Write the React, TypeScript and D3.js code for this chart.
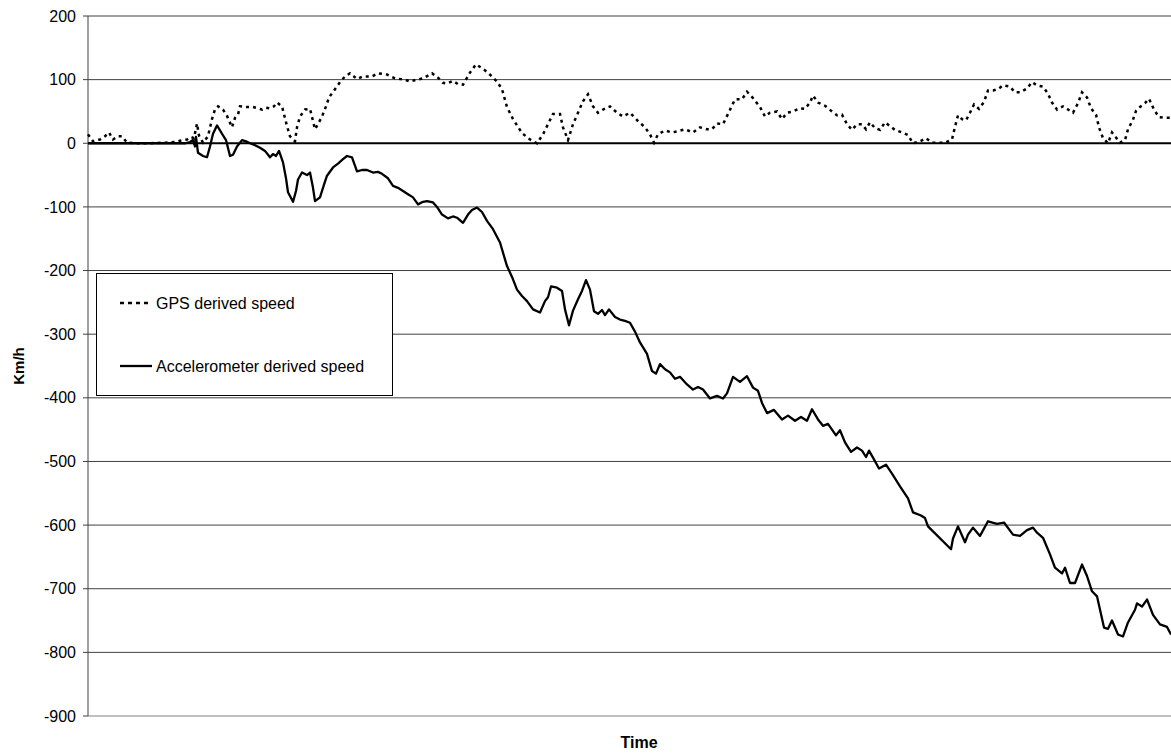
import React from "react";
import * as d3 from "d3";

// Time in samples (arbitrary units), values in km/h
const accelTime = [0, 62, 97, 102, 105, 107, 108, 110, 115, 119, 122, 125, 129, 134, 138, 142, 145, 149, 154, 158, 162, 167, 172, 177, 182, 185, 188, 191, 195, 198, 200, 205, 208, 210, 214, 219, 222, 225, 227, 232, 236, 239, 245, 250, 255, 259, 264, 269, 274, 279, 285, 290, 294, 300, 305, 310, 315, 320, 325, 330, 335, 339, 345, 349, 354, 360, 365, 369, 375, 380, 384, 389, 394, 399, 405, 412, 419, 424, 429, 434, 439, 445, 452, 457, 460, 463, 469, 474, 477, 481, 485, 490, 494, 498, 502, 506, 510, 514, 517, 521, 527, 532, 537, 542, 547, 552, 559, 564, 568, 572, 577, 582, 587, 592, 599, 605, 610, 615, 622, 629, 635, 639, 645, 652, 659, 665, 670, 674, 679, 686, 694, 700, 707, 713, 719, 724, 730, 735, 740, 748, 752, 757, 763, 769, 774, 778, 781, 785, 791, 798, 804, 812, 820, 825, 833, 837, 840, 863, 865, 870, 877, 880, 885, 892, 900, 909, 916, 925, 932, 939, 945, 949, 955, 962, 967, 974, 977, 982, 987, 994, 999, 1004, 1009, 1016, 1020, 1024, 1030, 1035, 1040, 1047, 1049, 1054, 1059, 1065, 1072, 1079, 1083];
const accelSpeed = [0, 0, 0, 2, 5, -5, 10, -15, -20, -22, -5, 15, 28, 15, 5, -20, -18, -5, 5, 3, 0, -3, -7, -12, -22, -17, -20, -12, -30, -55, -77, -92, -75, -57, -46, -50, -46, -70, -91, -85, -65, -51, -38, -32, -25, -20, -22, -44, -42, -42, -46, -45, -48, -55, -67, -70, -75, -80, -85, -96, -92, -91, -93, -100, -112, -118, -115, -117, -125, -112, -105, -101, -108, -122, -135, -156, -193, -210, -230, -240, -248, -261, -266, -248, -242, -225, -227, -232, -261, -286, -263, -245, -232, -215, -230, -264, -268, -262, -270, -261, -273, -277, -279, -282, -296, -313, -331, -358, -362, -347, -355, -360, -370, -367, -379, -387, -383, -387, -401, -397, -401, -393, -367, -375, -366, -384, -389, -408, -424, -419, -434, -428, -436, -430, -436, -418, -434, -444, -441, -459, -451, -470, -485, -478, -483, -493, -483, -494, -511, -505, -519, -539, -558, -580, -585, -589, -602, -638, -621, -602, -627, -615, -604, -617, -594, -598, -596, -615, -617, -608, -604, -612, -620, -646, -667, -676, -667, -691, -691, -662, -680, -704, -712, -761, -763, -750, -772, -775, -753, -733, -723, -728, -717, -741, -756, -760, -772];

const gpsTime = [0, 5, 9, 12, 17, 21, 25, 30, 34, 39, 47, 62, 77, 87, 92, 99, 103, 106, 109, 111, 115, 120, 124, 127, 130, 135, 139, 144, 147, 150, 152, 159, 165, 170, 174, 178, 182, 186, 189, 194, 199, 202, 207, 209, 212, 217, 222, 225, 227, 230, 234, 238, 241, 247, 252, 257, 262, 269, 275, 284, 290, 299, 307, 317, 322, 329, 335, 344, 350, 355, 359, 365, 370, 375, 382, 388, 394, 400, 409, 414, 419, 425, 434, 442, 449, 455, 460, 465, 472, 475, 480, 485, 490, 495, 500, 505, 510, 515, 522, 529, 535, 542, 550, 557, 562, 566, 570, 577, 584, 590, 597, 605, 612, 619, 624, 629, 635, 640, 647, 654, 659, 665, 672, 677, 682, 689, 694, 699, 705, 712, 717, 722, 725, 730, 737, 744, 749, 754, 759, 764, 769, 774, 778, 782, 787, 792, 797, 802, 807, 814, 820, 825, 832, 838, 844, 850, 857, 864, 867, 870, 874, 878, 882, 886, 891, 896, 900, 905, 910, 915, 922, 927, 932, 939, 944, 949, 955, 960, 964, 969, 975, 980, 985, 990, 994, 999, 1003, 1008, 1011, 1015, 1020, 1024, 1027, 1032, 1037, 1040, 1045, 1048, 1052, 1057, 1061, 1066, 1071, 1077, 1083];
const gpsSpeed = [14, 3, 5, 6, 11, 17, 6, 11, 11, 1, 0, 0, 1, 2, 4, 6, 10, 8, 31, 12, 1, 11, 38, 53, 58, 53, 43, 25, 40, 45, 58, 57, 57, 55, 53, 56, 55, 58, 64, 58, 27, 11, 3, 25, 42, 53, 54, 35, 22, 30, 42, 58, 72, 85, 96, 105, 110, 101, 105, 105, 110, 108, 102, 100, 97, 100, 102, 110, 103, 95, 94, 98, 93, 92, 111, 124, 118, 111, 97, 85, 57, 38, 16, 6, 0, 14, 30, 46, 46, 25, 5, 30, 48, 66, 77, 58, 48, 53, 58, 48, 42, 48, 35, 25, 14, 1, 14, 20, 17, 19, 22, 17, 25, 22, 22, 31, 30, 46, 69, 69, 81, 71, 57, 42, 48, 50, 38, 48, 50, 55, 54, 64, 75, 64, 59, 50, 44, 45, 30, 21, 30, 30, 22, 33, 24, 21, 33, 27, 21, 17, 13, 0, 3, 8, 1, 1, 1, 6, 26, 44, 38, 36, 48, 61, 54, 65, 83, 83, 85, 91, 89, 80, 80, 86, 96, 91, 89, 78, 64, 53, 58, 53, 48, 63, 80, 72, 55, 45, 25, 8, 0, 17, 11, 1, 5, 22, 37, 51, 57, 63, 70, 53, 41, 40, 40];

const yTicks = [200, 100, 0, -100, -200, -300, -400, -500, -600, -700, -800, -900];
const seriesNames = ["GPS derived speed", "Accelerometer derived speed"];
const yTitle = "Km/h";
const xTitle = "Time";

const W = 1171;
const H = 756;
const FONT = "Arial, 'Liberation Sans', Helvetica, sans-serif";

export default function App() {
  const left = 88;
  const right = 1171;
  const top = 16;
  const bottom = 716;

  const x = d3.scaleLinear().domain([0, 1083]).range([left, right]);
  const y = d3.scaleLinear().domain([-900, 200]).range([bottom, top]);

  const line = d3
    .line<[number, number]>()
    .x((d) => x(d[0]))
    .y((d) => y(d[1]));

  const accelPts = accelTime.map((t, i) => [t, accelSpeed[i]] as [number, number]);
  const gpsPts = gpsTime.map((t, i) => [t, gpsSpeed[i]] as [number, number]);

  return (
    <svg
      width={W}
      height={H}
      style={{ position: "absolute", left: 0, top: 0, background: "#fff" }}
      fontFamily={FONT}
    >
      <rect x={0} y={0} width={W} height={H} fill="#fff" />
      {/* gridlines */}
      {yTicks.map((v) =>
        v === 0 ? null : (
          <line key={v} x1={left} x2={right} y1={y(v)} y2={y(v)} stroke={v === -900 ? "#808080" : "#404040"} strokeWidth={1} />
        )
      )}
      {/* y axis */}
      <line x1={left} x2={left} y1={top} y2={bottom} stroke="#404040" strokeWidth={1} />
      {yTicks.map((v) => (
        <g key={"t" + v}>
          <line x1={left - 5} x2={left} y1={y(v)} y2={y(v)} stroke="#404040" />
          <text x={76} y={y(v)} dy="0.35em" textAnchor="end" fontSize={16} fill="#000">
            {v}
          </text>
        </g>
      ))}
      {/* series */}
      <path d={line(gpsPts) || ""} fill="none" stroke="#000" strokeWidth={2.5} strokeDasharray="3 4" />
      <path d={line(accelPts) || ""} fill="none" stroke="#000" strokeWidth={2.3} strokeLinejoin="round" />
      {/* zero line */}
      <line x1={left} x2={right} y1={y(0)} y2={y(0)} stroke="#000" strokeWidth={2} />
      {/* legend */}
      <rect x={96.5} y={273.5} width={296} height={122} fill="#fff" stroke="#000" strokeWidth={1} />
      <line x1={120} x2={152} y1={303} y2={303} stroke="#000" strokeWidth={2.5} strokeDasharray="4 4" />
      <text x={156} y={303} dy="0.35em" fontSize={16}>{seriesNames[0]}</text>
      <line x1={120} x2={152} y1={366} y2={366} stroke="#000" strokeWidth={2.3} />
      <text x={156} y={366} dy="0.35em" fontSize={16}>{seriesNames[1]}</text>
      {/* titles */}
      <text x={639} y={748} textAnchor="middle" fontSize={16} fontWeight="bold">{xTitle}</text>
      <text transform={`translate(24, 366) rotate(-90)`} textAnchor="middle" fontSize={15} fontWeight="bold">{yTitle}</text>
    </svg>
  );
}
